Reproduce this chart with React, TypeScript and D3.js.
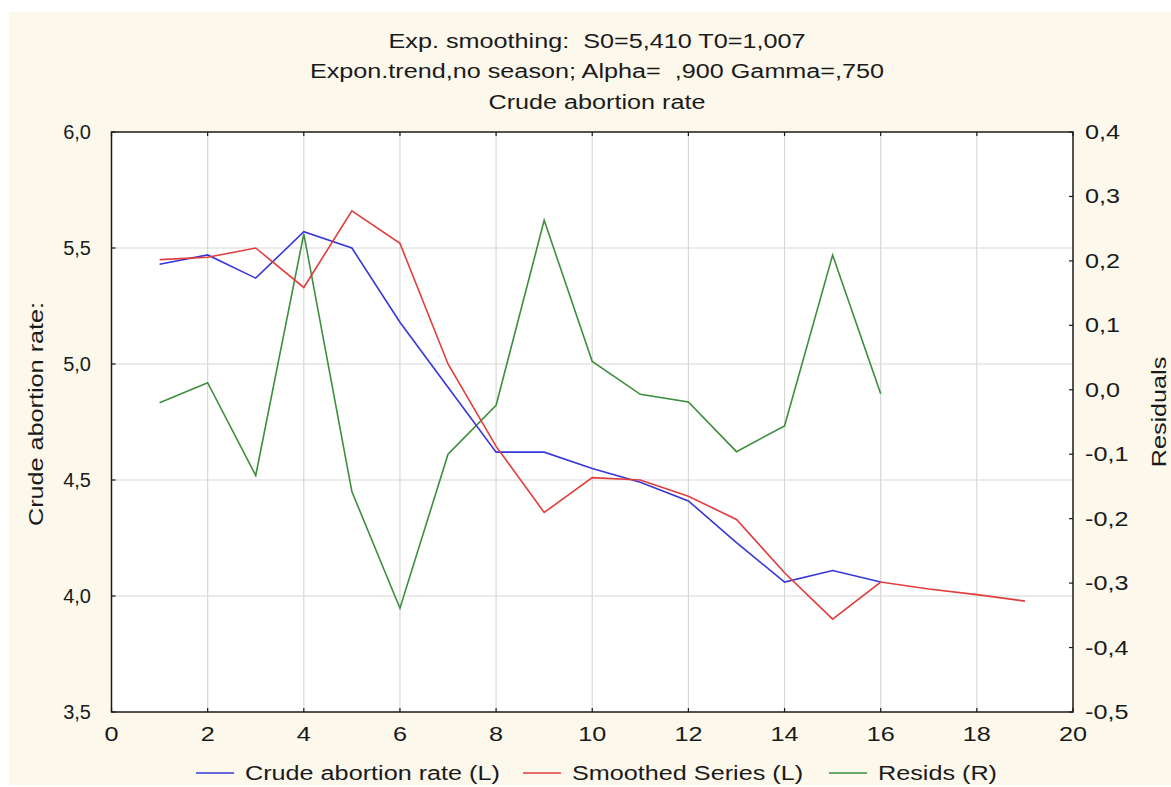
import React from "react";
import * as d3 from "d3";

const xs = [1, 2, 3, 4, 5, 6, 7, 8, 9, 10, 11, 12, 13, 14, 15, 16, 17, 18, 19];
const crude = [5.43, 5.47, 5.37, 5.57, 5.50, 5.18, 4.90, 4.62, 4.62, 4.55, 4.49, 4.41, 4.23, 4.06, 4.11, 4.06];
const smoothed = [5.45, 5.46, 5.50, 5.33, 5.66, 5.52, 5.00, 4.645, 4.36, 4.51, 4.50, 4.43, 4.33, 4.10, 3.90, 4.06, 4.03, 4.006, 3.978];
const resids = [-0.02, 0.011, -0.133, 0.242, -0.158, -0.339, -0.10, -0.024, 0.263, 0.044, -0.007, -0.019, -0.096, -0.056, 0.209, -0.006];

const xTicks = [0, 2, 4, 6, 8, 10, 12, 14, 16, 18, 20];
const leftTicks = [3.5, 4.0, 4.5, 5.0, 5.5, 6.0];
const rightTicks = [-0.5, -0.4, -0.3, -0.2, -0.1, 0.0, 0.1, 0.2, 0.3, 0.4];

const titleLines = [
  "Exp. smoothing:  S0=5,410 T0=1,007",
  "Expon.trend,no season; Alpha=  ,900 Gamma=,750",
  "Crude abortion rate",
];

const BLUE = "#3737d8";
const RED = "#e23c3c";
const GREEN = "#3d8e3d";
const FONT = "'Liberation Sans', Arial, sans-serif";
const FS = 21;
const SX = 1.2;

const fmt = (v: number) => v.toFixed(1).replace(".", ",").replace("-0,0", "0,0");

function T(props: { x: number; y: number; anchor?: string; rot?: number; sx?: number; fs?: number; children: React.ReactNode }) {
  const { x, y, anchor = "start", rot = 0, sx = SX, fs = FS, children } = props;
  return (
    <text
      transform={`translate(${x},${y}) rotate(${rot}) scale(${sx},1)`}
      textAnchor={anchor}
      fontSize={fs}
      fill="#1a1a1a"
      style={{ whiteSpace: "pre" }}
    >
      {children}
    </text>
  );
}

export default function App() {
  const left = 111.5, right = 1073, top = 132, bottom = 712;
  const x = d3.scaleLinear().domain([0, 20]).range([left, right]);
  const yL = d3.scaleLinear().domain([3.5, 6]).range([bottom, top]);
  const yR = d3.scaleLinear().domain([-0.5, 0.4]).range([bottom, top]);

  const lineL = d3.line<number>().x((_, i) => x(xs[i])).y((d) => yL(d));
  const lineR = d3.line<number>().x((_, i) => x(xs[i])).y((d) => yR(d));

  const legend = [
    { label: "Crude abortion rate (L)", color: BLUE, x0: 196 },
    { label: "Smoothed Series (L)", color: RED, x0: 523 },
    { label: "Resids (R)", color: GREEN, x0: 829 },
  ];

  return (
    <svg
      width={1171}
      height={787}
      style={{ position: "absolute", left: 0, top: 0 }}
      fontFamily={FONT}
    >
      <rect x={0} y={0} width={1171} height={787} fill="#ffffff" />
      <rect x={9} y={12} width={1162} height={773} fill="#fcf8ec" />
      <rect x={left} y={top} width={right - left} height={bottom - top} fill="#ffffff" />

      {titleLines.map((t, i) => (
        <T key={i} x={597} y={47.5 + i * 30.5} anchor="middle">
          {t}
        </T>
      ))}

      {/* grid */}
      {xTicks.slice(1, -1).map((t) => (
        <line key={"gx" + t} x1={x(t)} x2={x(t)} y1={top} y2={bottom} stroke="#d8d8d8" strokeWidth={1.2} />
      ))}
      {leftTicks.slice(1, -1).map((t) => (
        <line key={"gy" + t} x1={left} x2={right} y1={yL(t)} y2={yL(t)} stroke="#d8d8d8" strokeWidth={1.2} />
      ))}

      {/* series */}
      <path d={lineR(resids) || ""} fill="none" stroke={GREEN} strokeWidth={1.6} />
      <path d={lineL(crude) || ""} fill="none" stroke={BLUE} strokeWidth={1.6} />
      <path d={lineL(smoothed) || ""} fill="none" stroke={RED} strokeWidth={1.6} />

      {/* frame */}
      <rect x={left} y={top} width={right - left} height={bottom - top} fill="none" stroke="#1a1a1a" strokeWidth={1.5} />

      {/* x ticks */}
      {xTicks.map((t) => (
        <g key={"xt" + t}>
          <line x1={x(t)} x2={x(t)} y1={bottom} y2={bottom - 4} stroke="#1a1a1a" strokeWidth={1.2} />
          <line x1={x(t)} x2={x(t)} y1={top} y2={top + 4} stroke="#1a1a1a" strokeWidth={1.2} />
          <T x={x(t)} y={740.5} anchor="middle">
            {String(t)}
          </T>
        </g>
      ))}

      {/* left ticks */}
      {leftTicks.map((t) => (
        <g key={"lt" + t}>
          <line x1={left} x2={left + 4} y1={yL(t)} y2={yL(t)} stroke="#1a1a1a" strokeWidth={1.2} />
          <T x={91} y={yL(t) + 7} anchor="end" fs={20} sx={1.0}>
            {fmt(t)}
          </T>
        </g>
      ))}

      {/* right ticks */}
      {rightTicks.map((t) => (
        <g key={"rt" + t}>
          <line x1={right} x2={right - 4} y1={yR(t)} y2={yR(t)} stroke="#1a1a1a" strokeWidth={1.2} />
          <T x={1085} y={yR(t) + 7} anchor="start">
            {fmt(t)}
          </T>
        </g>
      ))}

      {/* axis titles */}
      <T x={43} y={414} anchor="middle" rot={-90}>
        Crude abortion rate:
      </T>
      <T x={1166} y={412} anchor="middle" rot={-90}>
        Residuals
      </T>

      {/* legend */}
      {legend.map((l) => (
        <g key={l.label}>
          <line x1={l.x0} x2={l.x0 + 38} y1={773} y2={773} stroke={l.color} strokeWidth={1.5} />
          <T x={l.x0 + 49} y={780}>
            {l.label}
          </T>
        </g>
      ))}
    </svg>
  );
}
